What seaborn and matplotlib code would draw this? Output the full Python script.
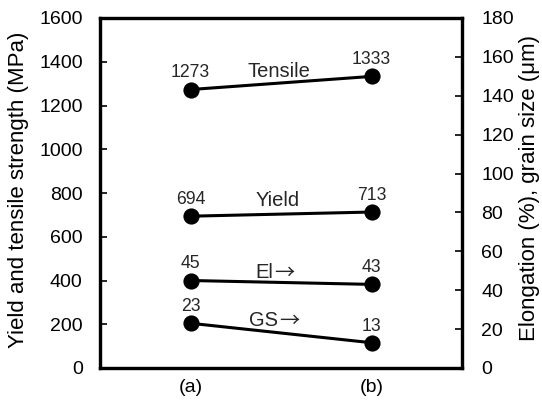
import matplotlib
matplotlib.use("Agg")
import matplotlib.pyplot as plt
import seaborn as sns
import pandas as pd

categories = ["(a)", "(b)"]
tensile = [1273, 1333]
yield_s = [694, 713]
elong = [45, 43]
grain = [23, 13]

left_ticks = [0, 200, 400, 600, 800, 1000, 1200, 1400, 1600]
right_ticks = [0, 20, 40, 60, 80, 100, 120, 140, 160, 180]

sns.set_theme(style="white")
plt.rcParams['font.family'] = ['Liberation Sans', 'DejaVu Sans']

fig = plt.figure(figsize=(5.42, 4.0), dpi=100)
ax = fig.add_axes([100 / 542, 32 / 400, 362 / 542, 350 / 400])
ax2 = ax.twinx()

kw = dict(color="black", markers="o", markersize=10, linewidth=2.2, errorbar=None)
for vals, a in [(tensile, ax), (yield_s, ax), (elong, ax2), (grain, ax2)]:
    sns.pointplot(x=categories, y=vals, ax=a, **kw)

ax.set_xlim(-0.5, 1.5)
ax.set_ylim(0, 1600)
ax2.set_ylim(0, 180)
ax.set_yticks(left_ticks)
ax2.set_yticks(right_ticks)

fs = 14
ax.tick_params(axis='y', direction='in', length=5, width=1.2, labelsize=fs, left=True, right=False, pad=12.5, colors='black')
ax2.tick_params(axis='y', direction='in', length=5, width=1.2, labelsize=fs, right=True, left=False, pad=14, colors='black')
ax.tick_params(axis='x', length=0, labelsize=fs, pad=8, colors='black')
for a in (ax, ax2):
    for s in a.spines.values():
        s.set_color("black")
        s.set_linewidth(2.3)
ax.set_ylabel("Yield and tensile strength (MPa)", fontsize=16, color="black", va='center')
ax2.set_ylabel("Elongation (%), grain size (μm)", fontsize=16, color="black", va='center', rotation=90)
ax.yaxis.set_label_coords((18.5 - 100) / 362, 0.51)
ax2.yaxis.set_label_coords((529.5 - 100) / 362, 0.515)
ax.set_xlabel("")

afs = 12.7
# value labels above markers
for i in range(2):
    for a, vals in [(ax, tensile), (ax, yield_s), (ax2, elong), (ax2, grain)]:
        a.annotate(str(vals[i]), xy=(i, vals[i]), xytext=(0, 12), textcoords='offset points',
                   ha='center', va='center', fontsize=afs)

lfs = 14.5
ax.text(0.49, 1354, "Tensile", ha='center', va='center', fontsize=lfs)
ax.text(0.48, 768, "Yield", ha='center', va='center', fontsize=lfs)
for name, xb, yb in [("El", 0.459, 46.3), ("GS", 0.486, 21.6)]:
    ax2.text(xb, yb, name, ha='right', va='baseline', fontsize=lfs)
    ax2.annotate("→", xy=(xb, yb), xytext=(0.5, -1.0), textcoords='offset points',
                 ha='left', va='baseline', fontsize=lfs, family=['Noto Sans CJK SC', 'DejaVu Sans'])

fig.savefig("out.png", dpi=100)
